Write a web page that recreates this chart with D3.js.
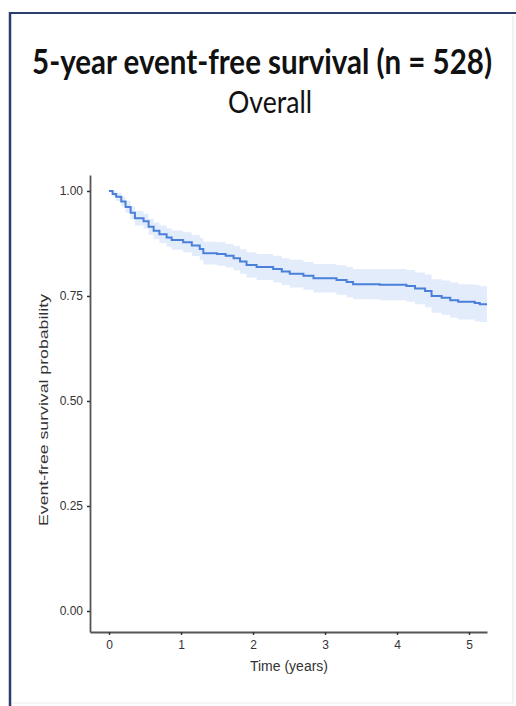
<!DOCTYPE html>
<html>
<head>
<meta charset="utf-8">
<script src="https://d3js.org/d3.v7.min.js"></script>
<style>
  body { margin: 0; background: #fff; }
  svg { display: block; }
</style>
</head>
<body>
<div id="my_dataviz"></div>
<script>

// KM estimate
var times = [0, 0.05, 0.10, 0.17, 0.23, 0.30, 0.36, 0.48, 0.55, 0.62, 0.70, 0.80, 0.87,
             1.03, 1.15, 1.26, 1.31, 1.50, 1.62, 1.73, 1.82, 1.91, 2.05, 2.28, 2.40, 2.51,
             2.70, 2.84, 3.16, 3.30, 3.39, 3.76, 4.13, 4.25, 4.39, 4.48, 4.62, 4.74, 4.85,
             5.08, 5.15, 5.25];
var surv  = [1.000, 0.993, 0.986, 0.975, 0.962, 0.948, 0.935, 0.928, 0.915, 0.905, 0.897, 0.889, 0.883,
             0.878, 0.870, 0.862, 0.852, 0.850, 0.846, 0.840, 0.832, 0.824, 0.819, 0.814, 0.808, 0.803,
             0.798, 0.792, 0.788, 0.783, 0.778, 0.777, 0.774, 0.768, 0.762, 0.750, 0.746, 0.740, 0.736,
             0.733, 0.730, 0.730];
var lower = [1.000, 0.986, 0.976, 0.963, 0.948, 0.933, 0.918, 0.910, 0.896, 0.885, 0.876, 0.867, 0.860,
             0.854, 0.845, 0.836, 0.825, 0.822, 0.818, 0.811, 0.803, 0.794, 0.788, 0.782, 0.776, 0.770,
             0.765, 0.758, 0.753, 0.747, 0.742, 0.740, 0.736, 0.730, 0.723, 0.710, 0.705, 0.698, 0.694,
             0.690, 0.688, 0.688];
var upper = [1.000, 1.000, 0.996, 0.987, 0.976, 0.963, 0.952, 0.946, 0.934, 0.925, 0.918, 0.911, 0.906,
             0.902, 0.895, 0.888, 0.879, 0.878, 0.874, 0.869, 0.861, 0.854, 0.850, 0.846, 0.840, 0.836,
             0.831, 0.826, 0.823, 0.819, 0.814, 0.814, 0.812, 0.806, 0.801, 0.790, 0.787, 0.782, 0.778,
             0.776, 0.773, 0.773];

var xTicks = [0, 1, 2, 3, 4, 5];
var yTicks = [0, 0.25, 0.50, 0.75, 1.00];

var data = times.map(function(t, i) {
  return {time: t, surv: surv[i], lo: lower[i], hi: upper[i]};
});

var W = 516, H = 706;

var svg = d3.select("#my_dataviz")
  .append("svg")
    .attr("width", W)
    .attr("height", H);

// frame (slide border)
svg.append("line")
  .attr("x1", 10).attr("x2", 516).attr("y1", 13).attr("y2", 13)
  .attr("stroke", "#2a3d6b").attr("stroke-width", 2);
svg.append("line")
  .attr("x1", 10).attr("x2", 10).attr("y1", 12).attr("y2", 706)
  .attr("stroke", "#2a3d6b").attr("stroke-width", 2.5);
svg.append("line")
  .attr("x1", 513).attr("x2", 513).attr("y1", 16).attr("y2", 703)
  .attr("stroke", "#e4e4e4").attr("stroke-width", 1);
svg.append("line")
  .attr("x1", 12).attr("x2", 513).attr("y1", 703).attr("y2", 703)
  .attr("stroke", "#ececec").attr("stroke-width", 1);

// titles (slide text is squeezed sideways, so stretch vertically)
svg.append("text")
  .attr("transform", "translate(262,74) scale(1,1.28)")
  .attr("text-anchor", "middle")
  .attr("textLength", 460)
  .attr("lengthAdjust", "spacingAndGlyphs")
  .style("font-family", "Lato, 'Open Sans', sans-serif")
  .style("font-weight", "bold")
  .style("font-size", "27px")
  .style("fill", "#111")
  .text("5-year event-free survival (n = 528)");

svg.append("text")
  .attr("transform", "translate(270,113) scale(1,1.2)")
  .attr("text-anchor", "middle")
  .attr("textLength", 84)
  .attr("lengthAdjust", "spacingAndGlyphs")
  .style("font-family", "Lato, 'Open Sans', sans-serif")
  .style("font-size", "26px")
  .style("fill", "#111")
  .text("Overall");

// scales
var x = d3.scaleLinear()
  .domain([-0.264, 5.25])
  .range([90, 487]);

var y = d3.scaleLinear()
  .domain([-0.05, 1.038])
  .range([632, 175]);

// confidence band
svg.append("path")
  .datum(data)
  .attr("fill", "#e3ecfb")
  .attr("stroke", "none")
  .attr("d", d3.area()
    .curve(d3.curveStepAfter)
    .x(function(d) { return x(d.time); })
    .y0(function(d) { return y(d.lo); })
    .y1(function(d) { return y(d.hi); })
  );

// survival curve
svg.append("path")
  .datum(data)
  .attr("fill", "none")
  .attr("stroke", "#4a7fda")
  .attr("stroke-width", 2)
  .attr("d", d3.line()
    .curve(d3.curveStepAfter)
    .x(function(d) { return x(d.time); })
    .y(function(d) { return y(d.surv); })
  );

// axes
var xAxis = svg.append("g")
  .attr("transform", "translate(0,632)")
  .call(d3.axisBottom(x).tickValues(xTicks).tickFormat(d3.format("d"))
    .tickSizeInner(3).tickSizeOuter(0).tickPadding(5));

var yAxis = svg.append("g")
  .attr("transform", "translate(90,0)")
  .call(d3.axisLeft(y).tickValues(yTicks).tickFormat(d3.format(".2f"))
    .tickSizeInner(3).tickSizeOuter(0).tickPadding(4));

[xAxis, yAxis].forEach(function(g) {
  g.select(".domain").attr("stroke", "#555").attr("stroke-width", 1.8);
  g.selectAll(".tick line").attr("stroke", "#333").attr("stroke-width", 1.5);
  g.selectAll(".tick text")
    .style("font-family", "'Liberation Sans', Arial, sans-serif")
    .style("font-size", "12px")
    .style("fill", "#333");
});

// axis labels
svg.append("text")
  .attr("x", 289)
  .attr("y", 671)
  .attr("text-anchor", "middle")
  .style("font-family", "'Liberation Sans', Arial, sans-serif")
  .style("font-size", "14px")
  .style("fill", "#333")
  .text("Time (years)");

svg.append("text")
  .attr("transform", "translate(48,410) rotate(-90)")
  .attr("text-anchor", "middle")
  .attr("textLength", 232)
  .attr("lengthAdjust", "spacingAndGlyphs")
  .style("font-family", "'Liberation Sans', Arial, sans-serif")
  .style("font-size", "13px")
  .style("fill", "#333")
  .text("Event-free survival probability");

</script>
</body>
</html>
